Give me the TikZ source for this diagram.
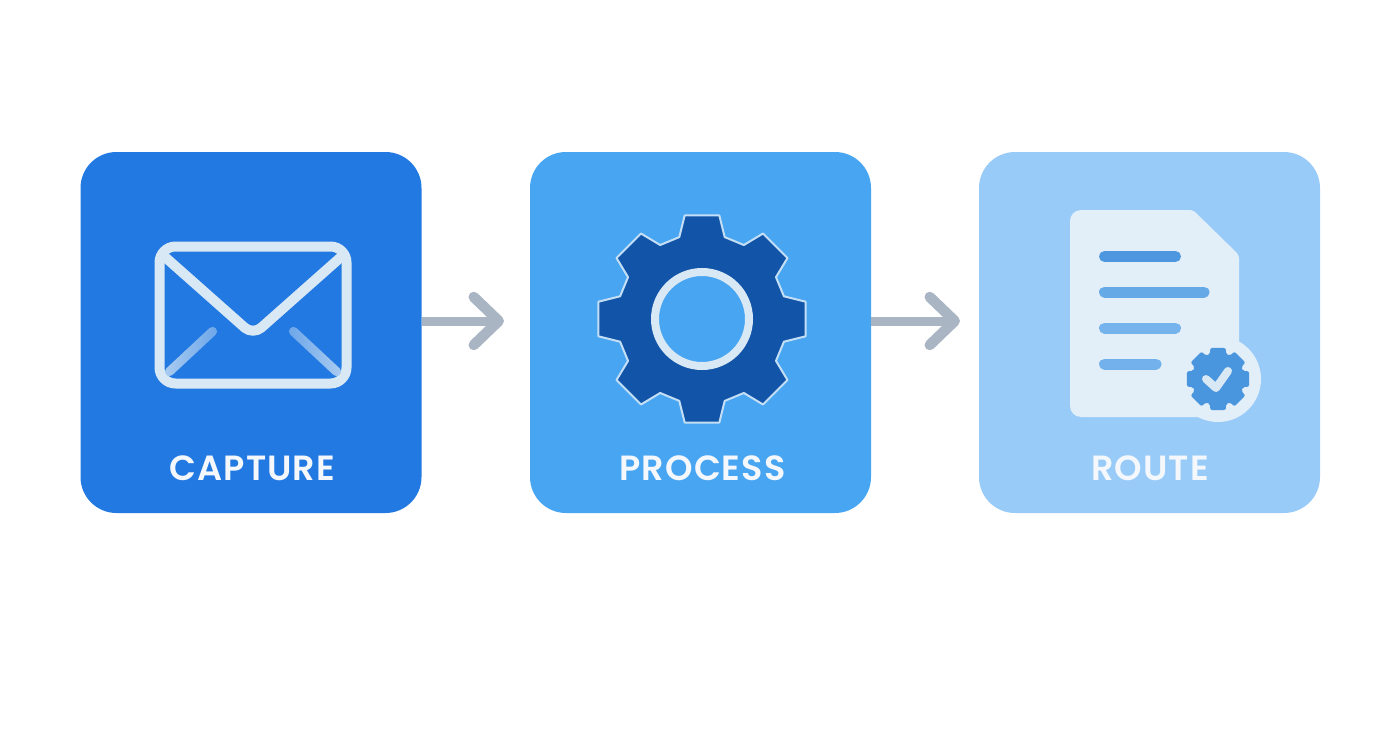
\documentclass[tikz,border=0pt]{standalone}
\usepackage{fontspec}
\newfontfamily\tilefont[BoldFont={Poppins SemiBold}, LetterSpace=3]{Poppins}
\usetikzlibrary{positioning, arrows.meta}

\definecolor{capblue}{HTML}{2379E2}
\definecolor{problue}{HTML}{47A5F2}
\definecolor{roublue}{HTML}{99CBF8}
\definecolor{paleline}{HTML}{D8E8F5}
\definecolor{gearedge}{HTML}{C4DEF5}
\definecolor{gearblue}{HTML}{1255A8}
\definecolor{arrowgray}{HTML}{A9B5C3}
\definecolor{seal}{HTML}{4A96DE}

\tikzset{
    tile/.style={rounded corners=36pt, minimum width=341pt, minimum height=361pt, inner sep=0pt},
    tilelabel/.style={text=white!95!capblue, font=\tilefont\fontsize{35}{36}\selectfont\bfseries},
    flowarrow/.style={line width=9pt, arrowgray, -{Straight Barb[length=25pt, width=48pt, line width=10.5pt, round]}},
    docline/.style={line width=11pt, line cap=round},
}

\begin{document}
\begin{tikzpicture}[x=1pt, y=-1pt]
    \useasboundingbox (0, 0) rectangle (1392, 752);

    %% Tiles
    \node[tile, fill=capblue] (capture) at (251, 332.5) {};
    \node[tile, fill=problue] (process) at (700.5, 332.5) {};
    \node[tile, fill=roublue] (route) at (1149.5, 332.5) {};

    % Labels
    \node[tilelabel] (capturelabel) at (252.5, 468) {CAPTURE};
    \node[tilelabel] (processlabel) at (702.5, 468) {PROCESS};
    \node[tilelabel] (routelabel) at (1150, 468) {ROUTE};

    %% Arrows
    \coordinate (firsttip) at (504, 321);
    \coordinate (secondtip) at (960, 321);
    \draw[flowarrow] (capture.east |- firsttip) -- (firsttip);
    \draw[flowarrow] (process.east |- secondtip) -- (secondtip);

    %% Envelope
    \begin{scope}[paleline, line width=10pt, line join=round]
        \draw[rounded corners=16pt] (159.5, 246.5) rectangle (346.5, 383.5);
        \draw[rounded corners=11pt] (165, 257) -- (253, 335) -- (341, 257);
        \shade[left color=capblue!25!paleline, right color=capblue!60!paleline, draw=none, rounded corners=4.5pt,
            rotate around={43:(191, 351.5)}] (157, 347) rectangle (225, 356);
        \shade[left color=capblue!60!paleline, right color=capblue!25!paleline, draw=none, rounded corners=4.5pt,
            rotate around={-43:(315, 351.5)}] (281, 347) rectangle (349, 356);
    \end{scope}

    %% Gear
    \begin{scope}[shift={(702, 319)}]
        \draw[fill=gearblue, draw=gearedge, line width=2pt, line join=round]
            (80.5:105) \foreach \a in {90, 135, ..., 405} {
                -- (\a-9.5:105) -- (\a+9.5:105) -- (\a+15.5:85) -- (\a+29.5:85)
            } -- cycle;
        \draw[fill=problue, draw=paleline, line width=8pt] (0, 0) circle (47);
    \end{scope}

    %% Document
    \fill[paleline!75!white, rounded corners=11pt] (1070, 210) [rounded corners=3pt] -- (1193, 210) -- (1239, 255)
        [rounded corners=11pt] -- (1239, 417) -- (1070, 417) -- cycle;
    \draw[docline, color=seal!85!capblue!90!roublue] (1104.5, 256.5) -- (1175.5, 256.5);
    \draw[docline, color=seal!65!roublue] (1104.5, 292) -- (1204, 292);
    \draw[docline, color=seal!45!roublue] (1104.5, 328) -- (1175.5, 328);
    \draw[docline, color=seal!50!roublue] (1104.5, 364) -- (1156, 364);

    % Seal
    \begin{scope}[shift={(1218, 379)}]
        \fill[paleline!75!white] (0, 0) circle (43);
        \fill[seal, line join=round, rounded corners=2pt]
            (76:32) \foreach \a in {90, 135, ..., 405} {
                -- (\a-14:32) -- (\a+14:32) -- (\a+18:26) -- (\a+27:26)
            } -- cycle;
        \draw[paleline, line width=8pt, line cap=round, line join=round] (-12, 0) -- (-2, 9) -- (10, -8);
    \end{scope}
\end{tikzpicture}
\end{document}
